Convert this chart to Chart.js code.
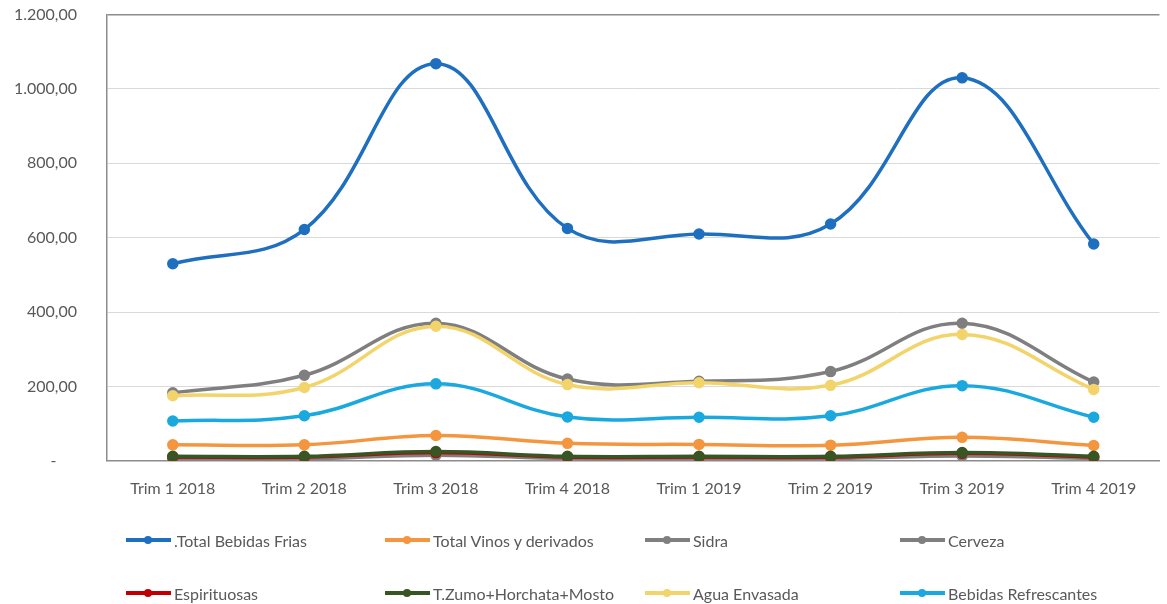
<!DOCTYPE html>
<html>
<head>
<meta charset="utf-8">
<script src="https://cdn.jsdelivr.net/npm/chart.js"></script>
<style>
  html, body { margin: 0; padding: 0; background: #fff; overflow: hidden; }
  #wrap { position: relative; width: 1167px; height: 604px; overflow: hidden; }
  #chart { position: absolute; left: 0; top: -25px; }
  #legend { position: absolute; left: 0; top: 0; width: 1167px; height: 604px; pointer-events: none;
            font-family: Lato, "Open Sans", sans-serif; font-size: 16px; color: #595959; }
  .item { position: absolute; display: flex; align-items: center; height: 20px; }
  .ico { position: relative; width: 45px; height: 20px; margin-right: 3px; }
  .ico .ln { position: absolute; left: 0; right: 0; top: 8px; height: 4px; }
  .ico .dt { position: absolute; left: 18px; top: 6px; width: 8px; height: 8px; border-radius: 50%; }
</style>
</head>
<body>
<div id="wrap">
  <canvas id="chart" width="1167" height="629"></canvas>
  <div id="legend"></div>
</div>
<script>
const quarters = ["Trim 1 2018", "Trim 2 2018", "Trim 3 2018", "Trim 4 2018", "Trim 1 2019", "Trim 2 2019", "Trim 3 2019", "Trim 4 2019"];

const seriesNames = [".Total Bebidas Frias", "Total Vinos y derivados", "Sidra", "Cerveza",
                     "Espirituosas", "T.Zumo+Horchata+Mosto", "Agua Envasada", "Bebidas Refrescantes"];

const totalBebidasFrias = [530, 622, 1068, 625, 610, 637, 1030, 583];
const totalVinos        = [43, 43, 68, 47, 44, 42, 63, 41];
const sidra             = [5, 5, 15, 6, 6, 6, 13, 6];
const cerveza           = [183, 230, 370, 220, 214, 240, 370, 212];
const espirituosas      = [10, 10, 22, 10, 10, 10, 20, 10];
const tZumo             = [12, 12, 25, 12, 12, 12, 22, 12];
const aguaEnvasada      = [175, 197, 362, 205, 210, 203, 340, 192];
const bebidasRefresc    = [107, 121, 207, 118, 117, 121, 202, 117];

const colors = ["#1f6fc0", "#f4963f", "#7f7f7f", "#7f7f7f", "#c00000", "#375623", "#f2d46b", "#1aa9df"];
const yTicks = [0, 200, 400, 600, 800, 1000, 1200];

const values = [totalBebidasFrias, totalVinos, sidra, cerveza, espirituosas, tZumo, aguaEnvasada, bebidasRefresc];

function fmt(v) {
  if (v === 0) return "-     ";
  const parts = v.toFixed(2).split(".");
  return parts[0].replace(/\B(?=(\d{3})+(?!\d))/g, ".") + "," + parts[1];
}

const datasets = seriesNames.map((name, i) => ({
  label: name,
  data: values[i],
  borderColor: colors[i],
  backgroundColor: colors[i],
  borderWidth: 3.5,
  pointRadius: 4,
  pointHoverRadius: 4,
  tension: 0.4,
  fill: false,
  order: seriesNames.length - i
}));

const FONT = "Lato, 'Open Sans', sans-serif";

new Chart(document.getElementById("chart"), {
  type: "line",
  data: { labels: quarters, datasets: datasets },
  options: {
    responsive: false,
    animation: false,
    layout: { padding: { top: 0, right: 1, bottom: 88, left: 0 } },
    plugins: { legend: { display: false }, tooltip: { enabled: false } },
    scales: {
      x: {
        offset: true,
        grid: { display: false, drawTicks: false },
        border: { display: true, color: "#8c8c8c", width: 1.5 },
        ticks: { color: "#595959", font: { family: FONT, size: 16 }, padding: 18, maxRotation: 0 }
      },
      y: {
        min: 0, max: 1200,
        afterFit: s => { s.width = 107; },
        afterBuildTicks: s => { s.ticks = yTicks.map(v => ({ value: v })); },
        grid: {
          drawTicks: false,
          color: ctx => (ctx.tick && ctx.tick.value === 1200) ? "#8c8c8c" : "#d9d9d9",
          lineWidth: ctx => (ctx.tick && ctx.tick.value === 1200) ? 1.5 : 1
        },
        border: { display: true, color: "#8c8c8c", width: 1.5 },
        ticks: { color: "#595959", font: { family: FONT, size: 16 }, padding: 30, callback: v => fmt(v) }
      }
    }
  }
});

// legend: 4 columns x 2 rows, same order as series
const legend = document.getElementById("legend");
const colX = [126, 385, 645, 900];
const rowY = [530, 583];
seriesNames.forEach((name, i) => {
  const el = document.createElement("div");
  el.className = "item";
  el.style.left = colX[i % 4] + "px";
  el.style.top = rowY[Math.floor(i / 4)] + "px";
  el.innerHTML = '<span class="ico"><span class="ln" style="background:' + colors[i] + '"></span>' +
    '<span class="dt" style="background:' + colors[i] + '"></span></span><span>' + name + '</span>';
  legend.appendChild(el);
});
</script>
</body>
</html>
